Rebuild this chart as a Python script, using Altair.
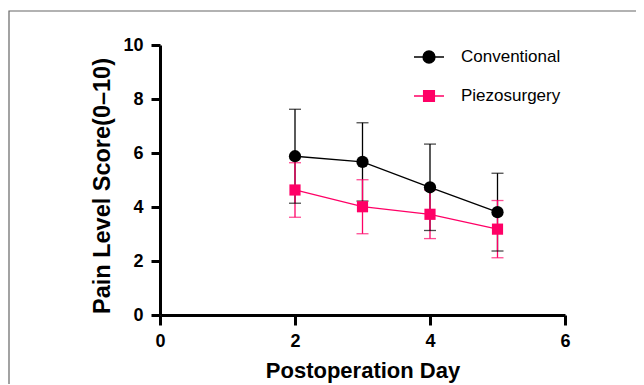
import altair as alt
import pandas as pd

days = [2, 3, 4, 5]
series = ["Conventional", "Piezosurgery"]
colors = ["#000000", "#FF0066"]
conv_mean = [5.88, 5.67, 4.73, 3.81]
conv_sd = [1.74, 1.45, 1.60, 1.44]
piezo_mean = [4.63, 4.01, 3.73, 3.18]
piezo_sd = [1.01, 1.00, 0.90, 1.06]
x_ticks = [0, 2, 4, 6]
y_ticks = [0, 2, 4, 6, 8, 10]

rows = []
for s, m, sd in ((series[0], conv_mean, conv_sd), (series[1], piezo_mean, piezo_sd)):
    for d, mv, sv in zip(days, m, sd):
        rows.append({"day": d, "series": s, "mean": mv, "lo": mv - sv, "hi": mv + sv})
df = pd.DataFrame(rows)

FONT = "Liberation Sans"
xenc = alt.X("day:Q", scale=alt.Scale(domain=[0, 6], nice=False),
             axis=alt.Axis(values=x_ticks, title="Postoperation Day"))
yaxis = alt.Axis(values=y_ticks, title="Pain Level Score(0–10)")
yscale = alt.Scale(domain=[0, 10], nice=False)
cscale = alt.Scale(domain=series, range=colors)
color_nolegend = alt.Color("series:N", scale=cscale, legend=None)

base = alt.Chart(df)

path_circle = "M-1,0L1,0M-0.4,0A0.4,0.4,0,1,0,0.4,0A0.4,0.4,0,1,0,-0.4,0Z"
path_square = "M-1,0L1,0M-0.36,-0.36L0.36,-0.36L0.36,0.36L-0.36,0.36Z"
leg = alt.Legend(title=None, orient="none", legendX=253, legendY=-4, symbolSize=900,
                 symbolStrokeWidth=1.3, symbolOpacity=1, labelFont=FONT, labelFontSize=17,
                 labelColor="black", labelOffset=16, rowPadding=14, padding=0)
# legend-only layer (first, so its legend settings win): no marks drawn, legend from scale domain
legend_layer = base.transform_filter("datum.day > 100").mark_point(filled=True, size=900).encode(
    x=xenc, y=alt.Y("mean:Q", scale=yscale, axis=yaxis),
    color=alt.Color("series:N", scale=cscale, legend=leg),
    stroke=alt.Stroke("series:N", scale=alt.Scale(domain=series, range=colors), legend=leg),
    shape=alt.Shape("series:N", scale=alt.Scale(domain=series, range=[path_circle, path_square]), legend=leg),
)

frame = alt.Chart(alt.Data(values=[{"a": 1}])).mark_rect(
    fill=None, stroke="#666666", strokeWidth=1.2
).encode(x=alt.value(-151), x2=alt.value(800), y=alt.value(-34), y2=alt.value(700))

err = base.mark_rule(strokeWidth=1.3).encode(
    x=xenc, y=alt.Y("lo:Q", scale=yscale, axis=yaxis), y2="hi:Q", color=color_nolegend)
cap_lo = base.mark_tick(orient="horizontal", size=12, thickness=1.3).encode(
    x=xenc, y=alt.Y("lo:Q", scale=yscale, axis=yaxis), color=color_nolegend)
cap_hi = base.mark_tick(orient="horizontal", size=12, thickness=1.3).encode(
    x=xenc, y=alt.Y("hi:Q", scale=yscale, axis=yaxis), color=color_nolegend)
line = base.mark_line(strokeWidth=1.3).encode(
    x=xenc, y=alt.Y("mean:Q", scale=yscale, axis=yaxis), color=color_nolegend)
pts_c = base.transform_filter(alt.datum.series == series[0]).mark_point(
    shape="circle", filled=True, size=150, opacity=1).encode(
    x=xenc, y=alt.Y("mean:Q", scale=yscale, axis=yaxis), color=color_nolegend)
pts_p = base.transform_filter(alt.datum.series == series[1]).mark_point(
    shape="square", filled=True, size=125, opacity=1).encode(
    x=xenc, y=alt.Y("mean:Q", scale=yscale, axis=yaxis), color=color_nolegend)

chart = alt.layer(legend_layer, frame, err, cap_lo, cap_hi, line, pts_c, pts_p).properties(
    width=405, height=270,
    autosize=alt.AutoSizeParams(type="none"),
    padding={"left": 152, "top": 37, "right": 71, "bottom": 69},
    background="white",
).configure_view(stroke=None).configure_axis(
    grid=False, domainColor="black", domainWidth=3, tickColor="black", tickWidth=3,
    labelFont=FONT, labelFontWeight="bold", labelFontSize=18, labelColor="black",
    labelFlush=False,
    titleFont=FONT, titleFontWeight="bold", titleFontSize=22, titleColor="black",
).configure_axisX(tickSize=10, labelPadding=7, titlePadding=10).configure_axisY(
    tickSize=9, labelPadding=8, titlePadding=8, titleFontSize=23.5, titleY=140.5)

chart.save("out.html", embed_options={"renderer": "svg", "actions": False})
